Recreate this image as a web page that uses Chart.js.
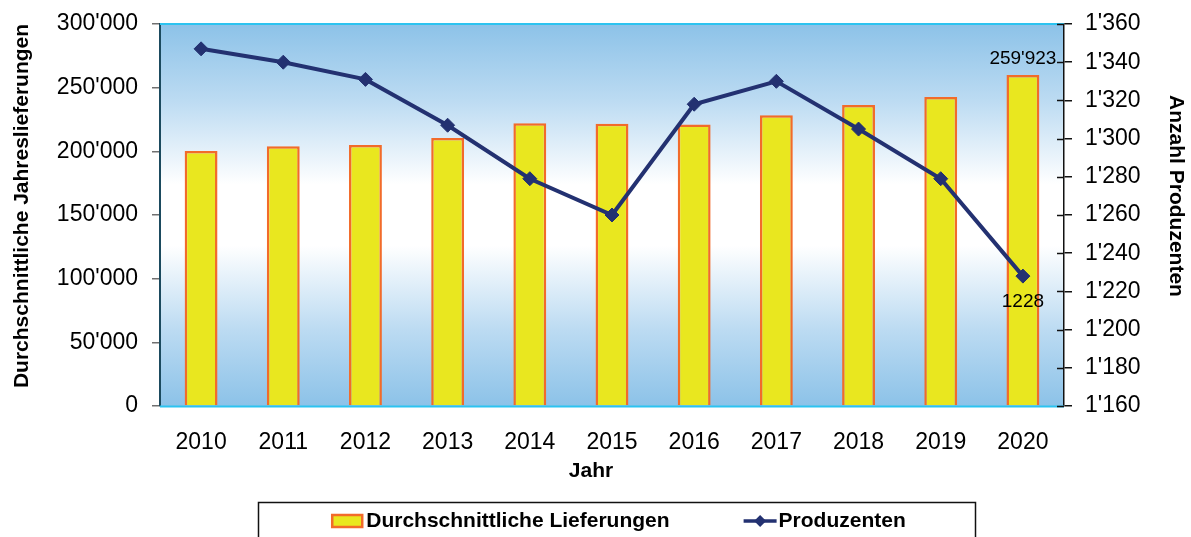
<!DOCTYPE html>
<html lang="de">
<head>
<meta charset="UTF-8">
<title>Durchschnittliche Lieferungen und Produzenten 2010-2020</title>
<script src="https://cdn.jsdelivr.net/npm/chart.js"></script>
<style>
  html, body { margin: 0; padding: 0; background: #fff; }
  #wrap { width: 1191px; height: 537px; }
</style>
</head>
<body>
<div id="wrap"><canvas id="chart" width="1191" height="537"></canvas></div>
<script>
// values
const years = ['2010', '2011', '2012', '2013', '2014', '2015', '2016', '2017', '2018', '2019', '2020'];
const deliveries = [200200, 204000, 205000, 210500, 222000, 221700, 221000, 228300, 236400, 242700, 259923];
const producers = [1347, 1340, 1331, 1307, 1279, 1260, 1318, 1330, 1305, 1279, 1228];

// axis ranges: min, max, step
const deliveryAxis = [0, 300000, 50000];
const producerAxis = [1160, 1360, 20];

const FONT = '"Liberation Sans", Arial, sans-serif';

// 300000 -> 300'000
function fmt(n) {
  return String(n).replace(/\B(?=(\d{3})+(?!\d))/g, "'");
}

const decorPlugin = {
  id: 'decor',
  beforeDraw(chart) {
    const { ctx, chartArea: a } = chart;
    const g = ctx.createLinearGradient(0, a.top, 0, a.bottom);
    g.addColorStop(0, '#8cc2e8');
    g.addColorStop(0.2, '#bcdbf2');
    g.addColorStop(0.42, '#ffffff');
    g.addColorStop(0.58, '#ffffff');
    g.addColorStop(0.8, '#bcdbf2');
    g.addColorStop(1, '#8cc2e8');
    ctx.save();
    ctx.fillStyle = g;
    ctx.fillRect(a.left, a.top, a.right - a.left, a.bottom - a.top);
    ctx.restore();
  },
  afterDatasetsDraw(chart) {
    const { ctx, chartArea: a } = chart;
    ctx.save();
    ctx.strokeStyle = '#2cc3f0';
    ctx.lineWidth = 2;
    ctx.beginPath();
    ctx.moveTo(a.left, a.top);
    ctx.lineTo(a.right, a.top);
    ctx.moveTo(a.left, a.bottom + 0.5);
    ctx.lineTo(a.right, a.bottom + 0.5);
    ctx.stroke();
    ctx.restore();
  },
  afterDraw(chart) {
    const { ctx, chartArea: a } = chart;
    ctx.save();

    // right axis ticks also reach into the plot
    const r = chart.scales.y1;
    ctx.strokeStyle = '#111';
    ctx.lineWidth = 1.5;
    ctx.beginPath();
    r.ticks.forEach(t => {
      const y = Math.round(r.getPixelForValue(t.value)) + 0.5;
      ctx.moveTo(a.right - 7, y);
      ctx.lineTo(a.right, y);
    });
    ctx.stroke();

    // value labels on the last year
    const last = years.length - 1;
    const lastBar = chart.getDatasetMeta(0).data[last];
    const lastPt = chart.getDatasetMeta(1).data[last];
    ctx.fillStyle = '#000';
    ctx.font = '19px ' + FONT;
    ctx.textAlign = 'center';
    ctx.textBaseline = 'alphabetic';
    ctx.fillText(fmt(deliveries[last]), lastBar.x, lastBar.y - 11);
    ctx.fillText(String(producers[last]), lastPt.x, lastPt.y + 31);

    // axis titles
    ctx.font = 'bold 21px ' + FONT;
    ctx.textBaseline = 'middle';
    ctx.fillText('Jahr', 591, 471);
    ctx.save();
    ctx.translate(22.5, 206);
    ctx.rotate(-Math.PI / 2);
    ctx.fillText('Durchschnittliche Jahreslieferungen', 0, 0);
    ctx.restore();
    ctx.save();
    ctx.translate(1176, 196);
    ctx.rotate(Math.PI / 2);
    ctx.fillText('Anzahl Produzenten', 0, 0);
    ctx.restore();

    // legend
    ctx.strokeStyle = '#111';
    ctx.lineWidth = 1.5;
    ctx.strokeRect(258.5, 502.5, 717, 50);

    const ds = chart.data.datasets;
    const w1 = ctx.measureText(ds[0].label).width;
    const w2 = ctx.measureText(ds[1].label).width;
    const total = 30 + 4 + w1 + 74 + 33 + 2 + w2;
    let x = 619 - total / 2;
    const ly = 521;

    ctx.fillStyle = ds[0].backgroundColor;
    ctx.fillRect(x, ly - 6, 30, 12);
    ctx.strokeStyle = ds[0].borderColor;
    ctx.lineWidth = 2.5;
    ctx.strokeRect(x, ly - 6, 30, 12);
    x += 34;
    ctx.fillStyle = '#000';
    ctx.textAlign = 'left';
    ctx.fillText(ds[0].label, x, ly);
    x += w1 + 74;

    ctx.strokeStyle = ds[1].borderColor;
    ctx.lineWidth = 3.5;
    ctx.beginPath();
    ctx.moveTo(x, ly);
    ctx.lineTo(x + 33, ly);
    ctx.stroke();
    ctx.fillStyle = ds[1].borderColor;
    ctx.beginPath();
    ctx.moveTo(x + 16.5, ly - 6);
    ctx.lineTo(x + 22.5, ly);
    ctx.lineTo(x + 16.5, ly + 6);
    ctx.lineTo(x + 10.5, ly);
    ctx.closePath();
    ctx.fill();
    x += 35;
    ctx.fillStyle = '#000';
    ctx.fillText(ds[1].label, x, ly);

    ctx.restore();
  }
};

// fixed axis widths; tick labels may hang over the plot edges
function fitY(width) {
  return s => {
    s.width = width;
    s.paddingTop = 0;
    s.paddingBottom = 0;
  };
}

const ctx = document.getElementById('chart').getContext('2d');
new Chart(ctx, {
  type: 'bar',
  data: {
    labels: years,
    datasets: [
      {
        type: 'bar',
        label: 'Durchschnittliche Lieferungen',
        data: deliveries,
        yAxisID: 'y',
        backgroundColor: '#e9e71f',
        borderColor: '#f26b2a',
        borderWidth: 2.5,
        barPercentage: 0.4,
        categoryPercentage: 1.0,
        order: 2
      },
      {
        type: 'line',
        label: 'Produzenten',
        data: producers,
        yAxisID: 'y1',
        borderColor: '#233171',
        backgroundColor: '#233171',
        borderWidth: 4,
        pointStyle: 'rectRot',
        pointRadius: 7,
        pointBorderWidth: 1,
        tension: 0,
        order: 1
      }
    ]
  },
  options: {
    responsive: false,
    animation: false,
    events: [],
    layout: { padding: { top: 24, left: 0, right: 0, bottom: 0 } },
    plugins: {
      legend: { display: false },
      tooltip: { enabled: false }
    },
    scales: {
      x: {
        grid: { display: false },
        border: { display: false },
        ticks: { color: '#000', font: { family: FONT, size: 23 }, padding: 15 },
        afterFit(s) { s.height = 131; }
      },
      y: {
        position: 'left',
        min: deliveryAxis[0],
        max: deliveryAxis[1],
        ticks: {
          stepSize: deliveryAxis[2],
          color: '#000',
          font: { family: FONT, size: 23 },
          padding: 14,
          callback: v => fmt(v)
        },
        grid: { drawOnChartArea: false, tickLength: 8, color: '#707070', lineWidth: 1.5 },
        border: { color: '#1b4a5e', width: 2 },
        afterFit: fitY(160)
      },
      y1: {
        position: 'right',
        min: producerAxis[0],
        max: producerAxis[1],
        ticks: {
          stepSize: producerAxis[2],
          color: '#000',
          font: { family: FONT, size: 23 },
          padding: 13,
          callback: v => fmt(v)
        },
        grid: { drawOnChartArea: false, tickLength: 8, color: '#111', lineWidth: 1.5 },
        border: { color: '#111', width: 1.5 },
        afterFit: fitY(127)
      }
    }
  },
  plugins: [decorPlugin]
});
</script>
</body>
</html>
